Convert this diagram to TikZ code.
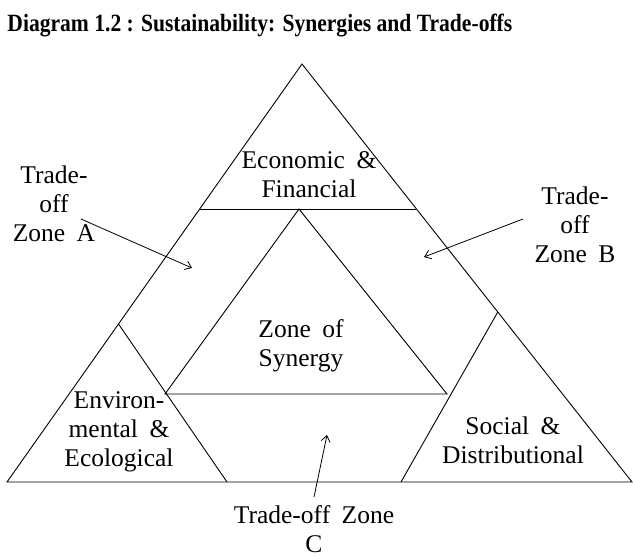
\documentclass[tikz,border=0pt]{standalone}
\usepackage{fontspec}
\setmainfont{Liberation Serif}[WordSpace=1.8]
\newfontfamily\titlefont{Liberation Serif}[FakeStretch=0.87]
\usetikzlibrary{calc,arrows.meta}

\begin{document}
\begin{tikzpicture}[x=1pt,y=-1pt,line width=0.9pt]
\tikzset{
% Two styles: zone texts and the arrows pointing into the zones
zone label/.style={align=center,inner sep=0,anchor=base,font=\fontsize{25.5}{29}\selectfont},
pointer/.style={-{Straight Barb[length=6pt,width=9pt]},line width=0.8pt}
}
\useasboundingbox (0,0) rectangle (633,558);

% Title
\node[anchor=base west,inner sep=0,font=\titlefont\bfseries\fontsize{24.8}{28}\selectfont] (title) at (7,31) {Diagram 1.2 : Sustainability: Synergies and Trade-offs};

% The big triangle
\coordinate (top) at (302,64);
\coordinate (left) at (7,482);
\coordinate (right) at (632,482);
\draw (left) -- (right) -- (top) -- cycle;

% Cuts that mark off the three corner zones
\coordinate (econ l) at ($(left)!.6531!(top)$);
\coordinate (econ r) at ($(right)!.6531!(top)$);
\coordinate (env t) at ($(left)!.378!(top)$);
\coordinate (env b) at (227,482);
\coordinate (soc t) at ($(right)!.4067!(top)$);
\coordinate (soc b) at (401,482);
\draw (econ l) -- (econ r);
\draw (env t) -- (env b);
\draw (soc t) -- (soc b);

% Zone of synergy in the middle
\coordinate (syn t) at (299,209);
\coordinate (syn l) at (165,394);
\coordinate (syn r) at (447,394);
\draw (syn t) -- (syn l) -- (syn r) -- cycle;

% Zone texts (placed at the baseline of their last line)
\node[zone label] (econ) at (309,197) {Economic \&\\Financial};
\node[zone label] (syn) at (301,366) {Zone of\\Synergy};
\node[zone label] (env) at (119,466) {Environ-\\mental \&\\Ecological};
\node[zone label] (soc) at (513,463) {Social \&\\Distributional};
\node[zone label] (zone a) at (54,241.5) {Trade-\\off\\Zone A};
\node[zone label] (zone b) at (575,262) {Trade-\\off\\Zone B};
\node[zone label] (zone c) at (314,552) {Trade-off Zone\\C};

% Pointers into the trade-off zones
\coordinate (a from) at (81,219);
\coordinate (a to) at (192,268);
\coordinate (b from) at (523,219);
\coordinate (b to) at (424,257);
\coordinate (c from) at (314,497);
\coordinate (c to) at (327,435);
\draw[pointer] (a from) -- (a to);
\draw[pointer] (b from) -- (b to);
\draw[pointer] (c from) -- (c to);
\end{tikzpicture}
\end{document}
